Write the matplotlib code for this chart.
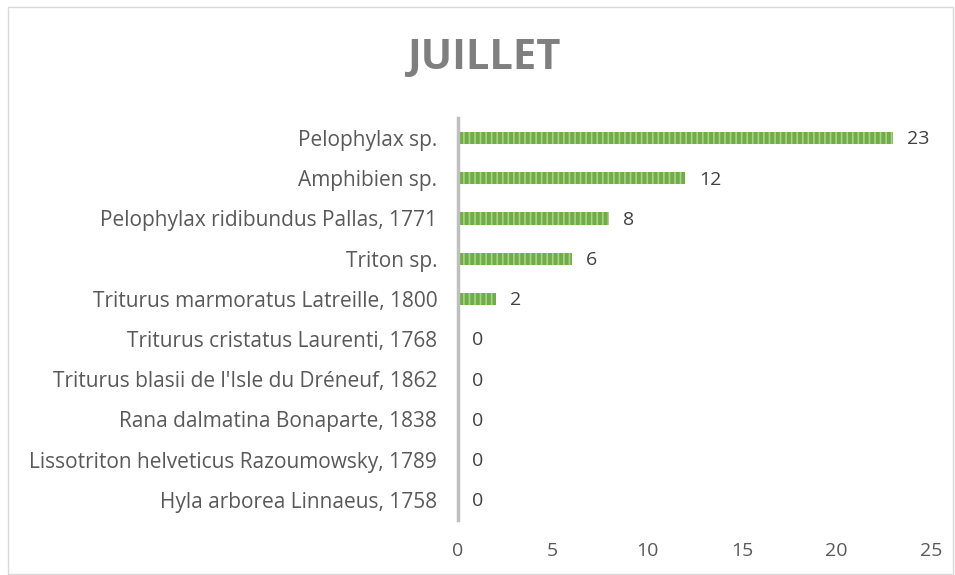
import matplotlib.pyplot as plt
from matplotlib.patches import Rectangle

species = ["Hyla arborea Linnaeus, 1758",
           "Lissotriton helveticus Razoumowsky, 1789",
           "Rana dalmatina Bonaparte, 1838",
           "Triturus blasii de l'Isle du Dréneuf, 1862",
           "Triturus cristatus Laurenti, 1768",
           "Triturus marmoratus Latreille, 1800",
           "Triton sp.",
           "Pelophylax ridibundus Pallas, 1771",
           "Amphibien sp.",
           "Pelophylax sp."]
counts = [0, 0, 0, 0, 0, 2, 6, 8, 12, 23]
xticks = [0, 5, 10, 15, 20, 25]

plt.rcParams['font.family'] = ['Open Sans', 'DejaVu Sans']
plt.rcParams['hatch.linewidth'] = 1.2

fig = plt.figure(figsize=(9.55, 5.75), dpi=100)
ax = fig.add_axes([0.4796, 0.0957, 0.4953, 0.6991])

pos = list(range(len(species)))
ax.barh(pos, counts, height=0.3, color="#70AD47", edgecolor="#A9D18E",
        hatch="|||", linewidth=0)

for p, c in zip(pos, counts):
    ax.annotate(str(c), (c, p), xytext=(10, -1), textcoords="offset points",
                va="center", ha="left", fontsize=14, color="#404040")

ax.set_xlim(0, 25)
ax.set_ylim(-0.5, len(species) - 0.5)
ax.set_xticks(xticks)
ax.set_yticks(pos)
ax.set_yticklabels(species, fontsize=15)
ax.tick_params(axis="both", length=0, colors="#595959")
ax.tick_params(axis="x", labelsize=14, pad=16)
ax.tick_params(axis="y", pad=15)
for s in ["top", "right", "bottom"]:
    ax.spines[s].set_visible(False)
ax.spines["left"].set_color("#BFBFBF")
ax.spines["left"].set_linewidth(2.5)

fig.text(0.507, 0.899, "JUILLET", ha="center", va="center", fontsize=30,
         fontweight="bold", color="#7F7F7F")

fig.patches.append(Rectangle((0.008, 0.002), 0.99, 0.985, transform=fig.transFigure,
                             fill=False, edgecolor="#D9D9D9", linewidth=1))

fig.savefig("out.png", dpi=100)
